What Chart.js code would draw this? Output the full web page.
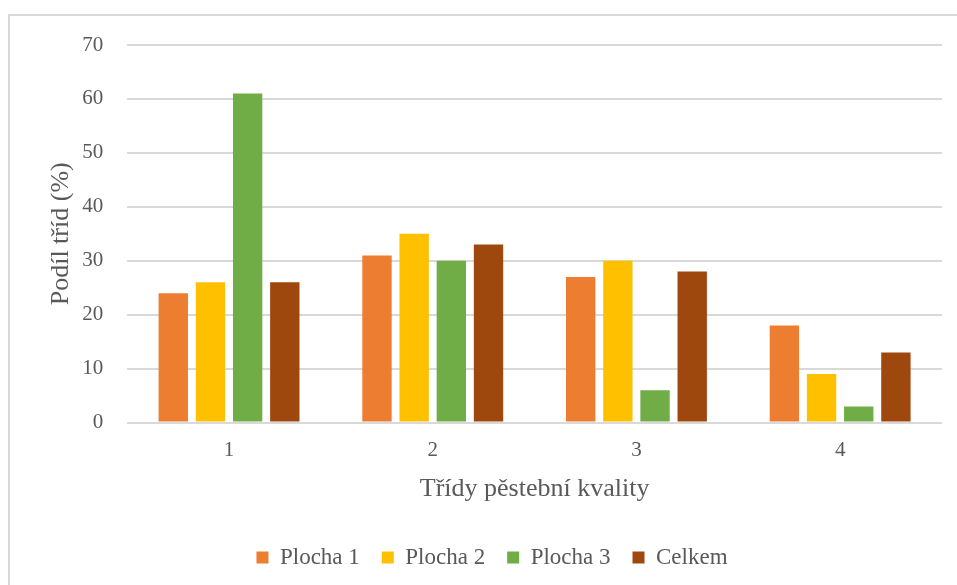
<!DOCTYPE html>
<html>
<head>
<meta charset="utf-8">
<script src="https://cdn.jsdelivr.net/npm/chart.js@4/dist/chart.umd.min.js"></script>
<style>
  html, body { margin: 0; padding: 0; background: #fff; overflow: hidden; }
  #frame {
    position: absolute; left: 8px; top: 14px; width: 1000px; height: 700px;
    border-left: 2px solid #d9d9d9; border-top: 2px solid #d9d9d9;
  }
  #wrap { position: absolute; left: 0; top: 0; width: 957px; height: 585px; }
</style>
</head>
<body>
<div id="frame"></div>
<div id="wrap"><canvas id="graf" width="957" height="585"></canvas></div>
<script>
// Podíl tříd pěstební kvality na jednotlivých plochách
const tridy = ['1', '2', '3', '4'];
const plocha1 = [24, 31, 27, 18];
const plocha2 = [26, 35, 30, 9];
const plocha3 = [61, 30, 6, 3];
const celkem = [26, 33, 28, 13];

const pismo = '"Liberation Serif", "Times New Roman", serif';
const sedaText = '#595959';

Chart.defaults.font.family = pismo;
Chart.defaults.color = sedaText;

const ctx = document.getElementById('graf').getContext('2d');
const graf = new Chart(ctx, {
  type: 'bar',
  data: {
    labels: tridy,
    datasets: [
      { label: 'Plocha 1', data: plocha1, backgroundColor: '#ED7D31' },
      { label: 'Plocha 2', data: plocha2, backgroundColor: '#FFC000' },
      { label: 'Plocha 3', data: plocha3, backgroundColor: '#70AD47' },
      { label: 'Celkem', data: celkem, backgroundColor: '#9E480E' }
    ]
  },
  options: {
    responsive: false,
    animation: false,
    categoryPercentage: 0.73,
    barPercentage: 0.79,
    layout: { padding: { left: 42, right: 15, top: 45, bottom: 6 } },
    plugins: {
      tooltip: { enabled: false },
      legend: {
        position: 'bottom',
        labels: {
          boxWidth: 12,
          boxHeight: 12,
          padding: 22,
          font: { size: 23 },
          color: sedaText
        }
      }
    },
    scales: {
      x: {
        grid: { display: false, drawTicks: false },
        border: { display: false },
        ticks: { padding: 15, font: { size: 21 } },
        title: {
          display: true,
          text: 'Třídy pěstební kvality',
          font: { size: 26 },
          padding: { top: -4, bottom: 19 }
        }
      },
      y: {
        min: 0,
        max: 70,
        ticks: { stepSize: 10, padding: 24, font: { size: 21 } },
        grid: { color: '#d9d9d9', lineWidth: 2, drawTicks: false },
        border: { display: false },
        title: {
          display: true,
          text: 'Podíl tříd (%)',
          font: { size: 26 },
          padding: { top: 4, bottom: -19 }
        }
      }
    }
  }
});
</script>
</body>
</html>
